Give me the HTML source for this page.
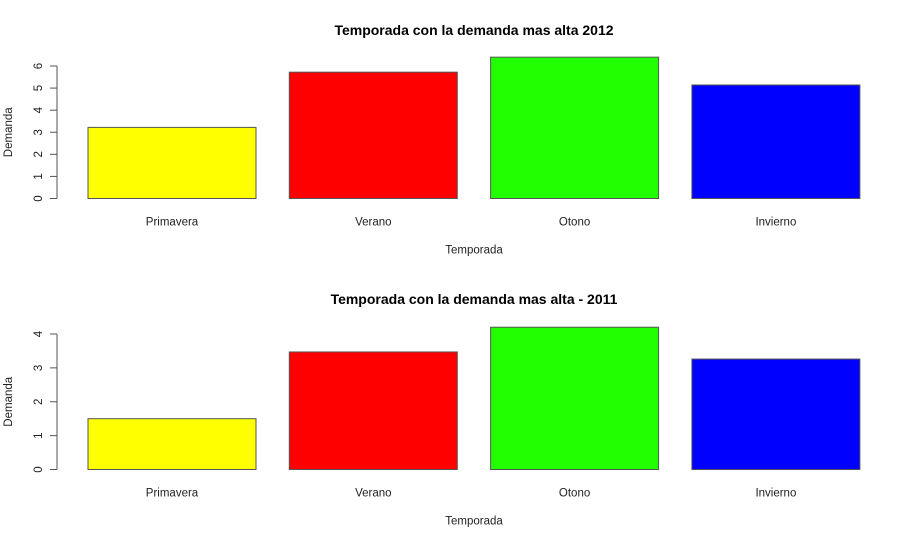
<!DOCTYPE html>
<html><head><meta charset="utf-8"><style>
body{margin:0;background:#fff}
svg{display:block;font-family:"Liberation Sans",Arial,sans-serif}
</style></head><body>
<svg id="c" width="921" height="542"></svg>
<script>
const categories=["Primavera","Verano","Otono","Invierno"];
const colors=["#ffff00","#ff0000","#22ff00","#0000ff"];
const values2012=[3.22,5.72,6.4,5.14];
const values2011=[1.5,3.47,4.2,3.26];
const ticks2012=[0,1,2,3,4,5,6];
const ticks2011=[0,1,2,3,4];
const NS="http://www.w3.org/2000/svg";
const svg=document.getElementById('c');
function el(t,a,p){const e=document.createElementNS(NS,t);for(const k in a)e.setAttribute(k,a[k]);(p||svg).appendChild(e);return e;}
function panel(title,vals,ticks,y0,yTop,titleY,name){
  const g=el('g',{});
  
  
  const maxT=ticks[ticks.length-1];
  const ys=v=>y0-(v/maxT)*(y0-yTop);
  const xs=i=>88+i*201.3;
  const t=el('text',{x:474,y:titleY,'text-anchor':'middle','font-size':14,'font-weight':'bold',fill:'#000'},g);
  t.textContent=title;
  
  
  const ax=el('line',{x1:57,x2:57,y1:ys(0),y2:ys(maxT),stroke:'#555'},g);
  
  
  ticks.forEach(v=>{
    el('line',{x1:50,x2:57,y1:ys(v),y2:ys(v),stroke:'#555'},g);
    const tx=el('text',{x:42,y:ys(v),'font-size':11.5,'text-anchor':'middle',fill:'#222',transform:`rotate(-90 42 ${ys(v)})`},g);
    tx.textContent=v;
    
    
  });
  const yl=el('text',{x:12,y:(y0+yTop)/2,'font-size':11.5,'text-anchor':'middle',fill:'#222',transform:`rotate(-90 12 ${(y0+yTop)/2})`},g);
  yl.textContent='Demanda';
  
  
  vals.forEach((v,i)=>{
    const r=el('rect',{x:xs(i),y:ys(v),width:168,height:ys(0)-ys(v),fill:colors[i],stroke:'#555','stroke-width':1},g);
    
    
    const l=el('text',{x:xs(i)+84,y:y0+27,'font-size':11.5,'text-anchor':'middle',fill:'#222'},g);
    l.textContent=categories[i];
    
    
  });
  const xl=el('text',{x:474,y:y0+55,'font-size':11.5,'text-anchor':'middle',fill:'#222'},g);
  xl.textContent='Temporada';
  
  
}
panel('Temporada con la demanda mas alta 2012',values2012,ticks2012,198.5,66,35,'panel-2012');
panel('Temporada con la demanda mas alta - 2011',values2011,ticks2011,469.5,334,304,'panel-2011');
</script>
</body></html>
